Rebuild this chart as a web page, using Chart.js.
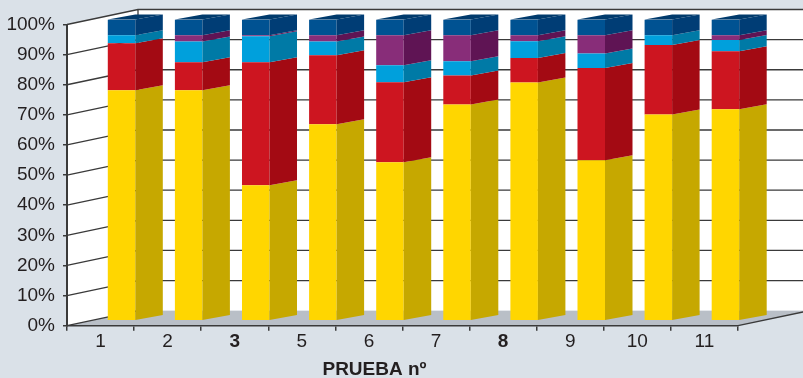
<!DOCTYPE html>
<html>
<head>
<meta charset="utf-8">
<script src="https://cdn.jsdelivr.net/npm/chart.js@4.4.0/dist/chart.umd.min.js"></script>
<style>
  html, body { margin: 0; padding: 0; background: #dae1e8; }
  #wrap { width: 803px; height: 378px; }
</style>
</head>
<body>
<div id="wrap"><canvas id="chart" width="803" height="378"></canvas></div>
<script>
// data (percent of each test)
const pruebas = ['1', '2', '3', '5', '6', '7', '8', '9', '10', '11'];
const boldPruebas = ['3', '8'];
const yellowVals    = [76.5, 76.5, 45.0, 65.2, 52.6, 71.8, 79.1, 53.3, 68.5, 70.2];
const redVals       = [15.6,  9.3, 40.8, 22.9, 26.6,  9.6,  8.1, 30.6, 23.0, 19.3];
const lightBlueVals = [ 2.7,  6.9,  8.6,  4.6,  5.6,  4.7,  5.6,  4.8,  3.3,  3.7];
const purpleVals    = [ 0.0,  2.1,  0.4,  2.1, 10.0,  8.7,  2.0,  6.1,  0.0,  1.6];
const darkBlueVals  = [ 5.2,  5.2,  5.2,  5.2,  5.2,  5.2,  5.2,  5.2,  5.2,  5.2];
const yTicks = [0, 10, 20, 30, 40, 50, 60, 70, 80, 90, 100];

const FONT = '"Liberation Sans", Arial, sans-serif';
const TEXT = '#231f20';
const LINE = '#3a3a3a';

// 3d offsets
const WALL_DX = 71, WALL_DY = -15;
const BAR_DX = 21, BAR_DY = -5;
const SIDE_DX = 27.5, SIDE_DY = -5;

function poly(ctx, pts) {
  ctx.beginPath();
  ctx.moveTo(pts[0][0], pts[0][1]);
  for (let i = 1; i < pts.length; i++) ctx.lineTo(pts[i][0], pts[i][1]);
  ctx.closePath();
}

const box3d = {
  id: 'box3d',
  beforeDraw(chart) {
    const { ctx, chartArea: a, scales: { y } } = chart;
    const y0 = y.getPixelForValue(0), y1 = y.getPixelForValue(100);
    ctx.save();
    ctx.fillStyle = '#dae1e8';
    ctx.fillRect(0, 0, chart.width, chart.height);

    // back + left wall
    ctx.fillStyle = '#fff';
    ctx.fillRect(a.left + WALL_DX, y1 + WALL_DY, chart.width, y0 - y1);
    poly(ctx, [[a.left, y1], [a.left + WALL_DX, y1 + WALL_DY], [a.left + WALL_DX, y0 + WALL_DY], [a.left, y0]]);
    ctx.fill();

    // floor
    ctx.fillStyle = '#b9bfc7';
    poly(ctx, [[a.left, y0], [a.right, y0], [a.right + WALL_DX, y0 + WALL_DY], [a.left + WALL_DX, y0 + WALL_DY]]);
    ctx.fill();

    // grid lines on walls
    ctx.strokeStyle = LINE;
    ctx.lineWidth = 1.3;
    ctx.beginPath();
    yTicks.forEach(v => {
      const py = y.getPixelForValue(v);
      ctx.moveTo(a.left, py);
      ctx.lineTo(a.left + WALL_DX, py + WALL_DY);
      if (v > 0) ctx.lineTo(chart.width, py + WALL_DY);
    });
    ctx.moveTo(a.left + WALL_DX, y1 + WALL_DY);
    ctx.lineTo(a.left + WALL_DX, y0 + WALL_DY);
    ctx.moveTo(a.right, y0);
    ctx.lineTo(a.right + WALL_DX, y0 + WALL_DY);
    ctx.stroke();
    ctx.restore();
  },
  beforeDatasetsDraw(chart) {
    chart.ctx.save();
    chart.ctx.translate(BAR_DX, BAR_DY);
  },
  afterDatasetsDraw(chart) {
    const ctx = chart.ctx;
    const last = chart.data.datasets.length - 1;
    chart.data.datasets.forEach((ds, i) => {
      chart.getDatasetMeta(i).data.forEach(bar => {
        const { x, y, base, width } = bar.getProps(['x', 'y', 'base', 'width'], true);
        if (Math.abs(base - y) < 0.01) return;
        const l = x - width / 2, r = x + width / 2;
        ctx.fillStyle = ds.sideColor;
        poly(ctx, [[r, y], [r + SIDE_DX, y + SIDE_DY], [r + SIDE_DX, base + SIDE_DY], [r, base]]);
        ctx.fill();
        if (i === last) {
          ctx.fillStyle = ds.topColor;
          poly(ctx, [[l, y], [r, y], [r + SIDE_DX, y + SIDE_DY], [l + SIDE_DX, y + SIDE_DY]]);
          ctx.fill();
        }
      });
    });
    ctx.restore();
  },
  afterDraw(chart) {
    const ctx = chart.ctx;
    ctx.save();
    ctx.fillStyle = TEXT;
    ctx.font = 'bold 19px ' + FONT;
    ctx.textAlign = 'center';
    ctx.textBaseline = 'alphabetic';
    ctx.fillText('PRUEBA nº', 374.5, 375);
    ctx.restore();
  }
};

const series = [
  { label: 'A', data: yellowVals,    backgroundColor: '#ffd600', sideColor: '#c6a800' },
  { label: 'B', data: redVals,       backgroundColor: '#cd1520', sideColor: '#a30a13' },
  { label: 'C', data: lightBlueVals, backgroundColor: '#00a0dc', sideColor: '#007aa6' },
  { label: 'D', data: purpleVals,    backgroundColor: '#882d79', sideColor: '#5f1454' },
  { label: 'E', data: darkBlueVals,  backgroundColor: '#005292', sideColor: '#003d75', topColor: '#003a6c' }
];

new Chart(document.getElementById('chart'), {
  type: 'bar',
  data: {
    labels: pruebas,
    datasets: series.map(s => Object.assign({
      borderWidth: 0,
      barPercentage: 0.41,
      categoryPercentage: 1
    }, s))
  },
  options: {
    responsive: false,
    animation: false,
    devicePixelRatio: 1,
    layout: { padding: { top: 24.5, right: 65, bottom: 0, left: 0 } },
    plugins: { legend: { display: false }, tooltip: { enabled: false } },
    scales: {
      x: {
        stacked: true,
        offset: true,
        grid: { display: true, drawOnChartArea: false, drawTicks: true, tickLength: 5, offset: true, color: LINE, lineWidth: 1.5 },
        border: { display: true, color: LINE, width: 1.5 },
        ticks: {
          color: TEXT,
          padding: 0,
          maxRotation: 0,
          font: c => ({ family: FONT, size: 19, weight: boldPruebas.includes(pruebas[c.index]) ? 'bold' : 'normal' })
        },
        afterFit: s => { s.height = 52.3; }
      },
      y: {
        stacked: true,
        min: 0,
        max: 100,
        grid: { display: true, drawOnChartArea: false, drawTicks: true, tickLength: 4, color: LINE, lineWidth: 1.5 },
        border: { display: true, color: LINE, width: 2 },
        ticks: {
          stepSize: 10,
          color: TEXT,
          padding: 8,
          font: { family: FONT, size: 19 },
          callback: v => v + '%'
        },
        afterFit: s => { s.width = 67; }
      }
    }
  },
  plugins: [box3d]
});
</script>
</body>
</html>
